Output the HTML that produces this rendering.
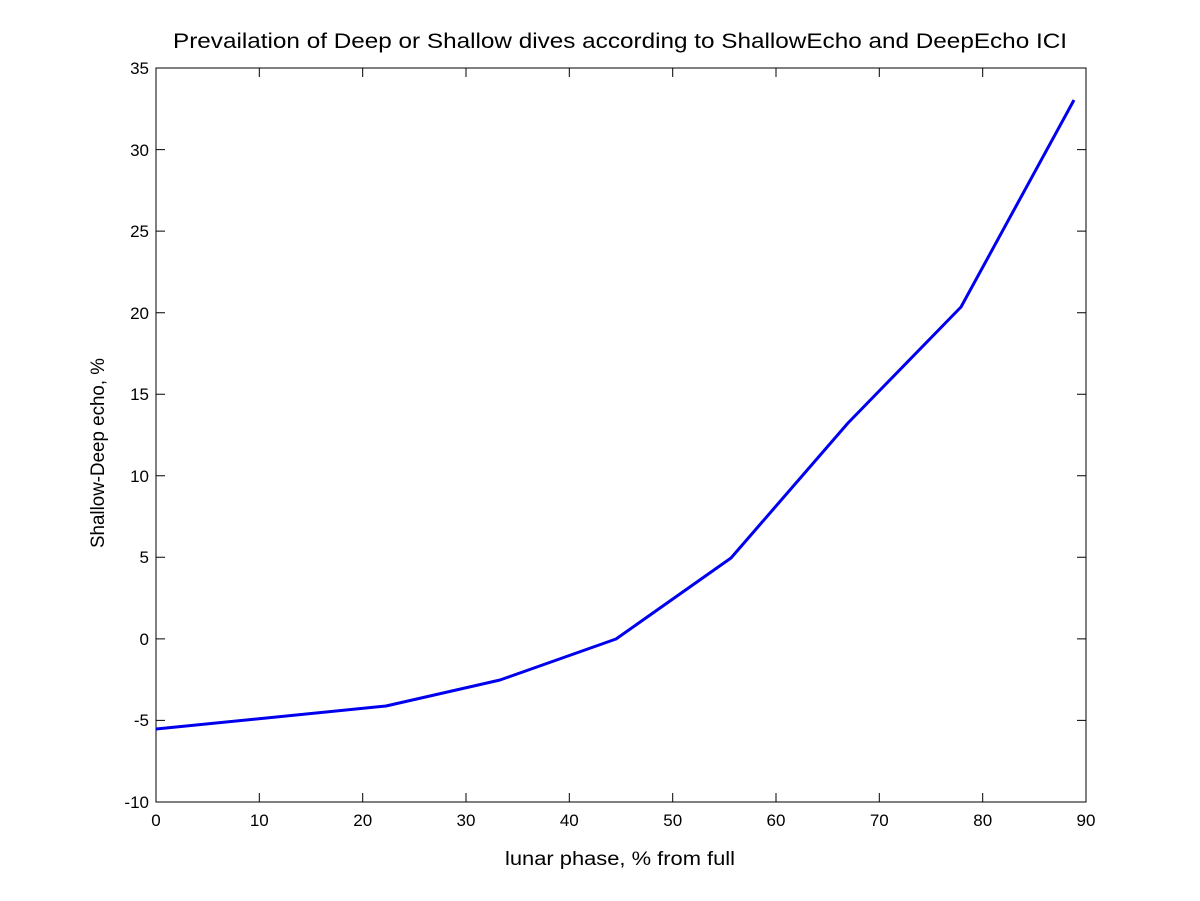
<!DOCTYPE html>
<html><head><style>body{margin:0;background:#fff}svg{display:block}text{font-family:"Liberation Sans",sans-serif;fill:#000}</style></head>
<body>
<svg width="1200" height="901" xmlns="http://www.w3.org/2000/svg" font-size="17">
<rect width="1200" height="901" fill="#fff"/>
<rect x="156" y="68" width="930" height="734" fill="#fff" stroke="#000" stroke-width="1"/>
<g stroke="#000" stroke-width="1">
<path d="M156 802v-9M259.3 802v-9M362.7 802v-9M466 802v-9M569.3 802v-9M672.7 802v-9M776 802v-9M879.3 802v-9M982.7 802v-9M1086 802v-9
M156 68v9M259.3 68v9M362.7 68v9M466 68v9M569.3 68v9M672.7 68v9M776 68v9M879.3 68v9M982.7 68v9M1086 68v9"/>
<path d="M156 802h9M156 720.4h9M156 638.9h9M156 557.3h9M156 475.8h9M156 394.2h9M156 312.7h9M156 231.1h9M156 149.6h9M156 68h9
M1086 802h-9M1086 720.4h-9M1086 638.9h-9M1086 557.3h-9M1086 475.8h-9M1086 394.2h-9M1086 312.7h-9M1086 231.1h-9M1086 149.6h-9M1086 68h-9"/>
</g>
<g text-anchor="middle" font-size="17">
<text x="156" y="826">0</text><text x="259.3" y="826">10</text><text x="362.7" y="826">20</text><text x="466" y="826">30</text><text x="569.3" y="826">40</text><text x="672.7" y="826">50</text><text x="776" y="826">60</text><text x="879.3" y="826">70</text><text x="982.7" y="826">80</text><text x="1086" y="826">90</text>
</g>
<g text-anchor="end" font-size="17">
<text x="149" y="808">-10</text><text x="149" y="726">-5</text><text x="149" y="645">0</text><text x="149" y="563">5</text><text x="149" y="482">10</text><text x="149" y="400">15</text><text x="149" y="319">20</text><text x="149" y="237">25</text><text x="149" y="156">30</text><text x="149" y="74">35</text>
</g>
<text x="505" y="865" textLength="230" lengthAdjust="spacingAndGlyphs" font-size="19">lunar phase, % from full</text>
<text transform="translate(104,548) rotate(-90)" textLength="190" lengthAdjust="spacingAndGlyphs" font-size="19">Shallow-Deep echo, %</text>
<text x="173" y="48" textLength="894" lengthAdjust="spacingAndGlyphs" font-size="21">Prevailation of Deep or Shallow dives according to ShallowEcho and DeepEcho ICI</text>
<polyline fill="none" stroke="#0000ee" stroke-width="3" stroke-linejoin="round" points="156,729 386,706 500,680 616,639 731,558 848,423 961,307 1074,100"/>
</svg>
</body></html>
